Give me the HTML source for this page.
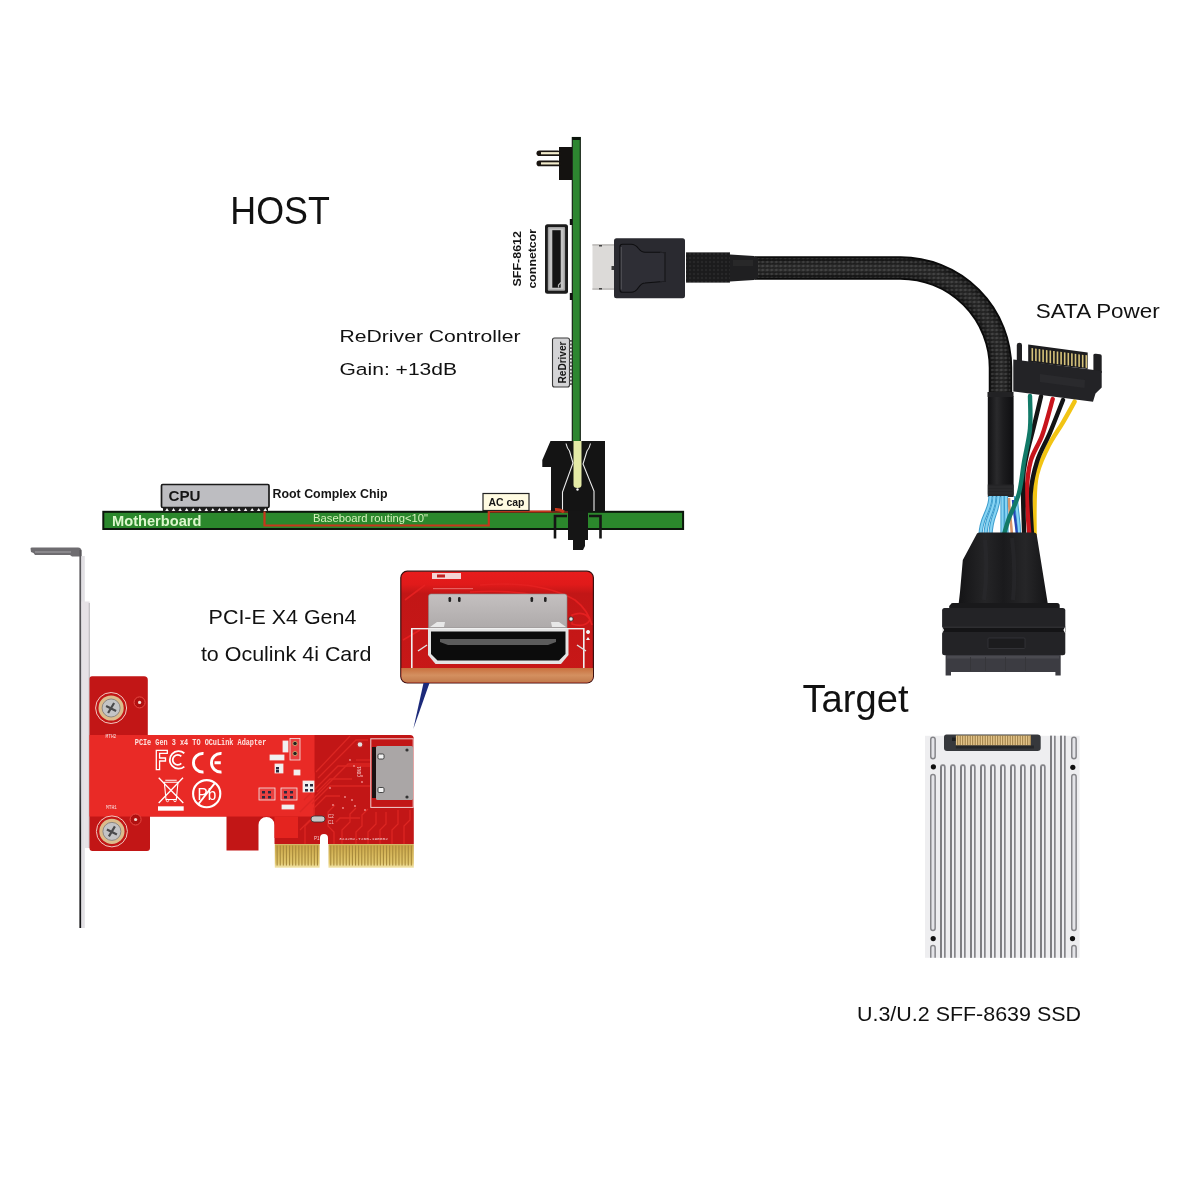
<!DOCTYPE html>
<html><head><meta charset="utf-8"><title>OCuLink to U.2 cable diagram</title>
<style>html,body{margin:0;padding:0;background:#fff;width:1200px;height:1200px;overflow:hidden}svg{display:block;will-change:transform}</style>
</head><body>
<svg width="1200" height="1200" viewBox="0 0 1200 1200">
<rect width="1200" height="1200" fill="#ffffff"/>
<defs>
<pattern id="braid" width="4.5" height="4" patternUnits="userSpaceOnUse">
<rect width="4.5" height="4" fill="#1c1c1c"/>
<path d="M0,2 L2.25,0.4 L4.5,2 L2.25,3.6 Z" fill="#383838"/>
<path d="M1.2,2 L2.25,1.2 L3.3,2 L2.25,2.8 Z" fill="#4a4a4a"/>
</pattern>
<pattern id="braid2" width="4.5" height="4" patternUnits="userSpaceOnUse" patternTransform="rotate(0)">
<path d="M0,2 L2.25,0.5 L4.5,2 L2.25,3.5 Z" fill="#ffffff" fill-opacity="0.10"/>
<path d="M1.3,2 L2.25,1.3 L3.2,2 L2.25,2.7 Z" fill="#ffffff" fill-opacity="0.08"/>
<path d="M0,0 L2.25,0.5 M2.25,3.5 L4.5,4" stroke="#000" stroke-opacity="0.3" stroke-width="0.5"/>
</pattern>
<pattern id="braidS" width="4" height="4" patternUnits="userSpaceOnUse">
<rect width="4" height="4" fill="#1a1a1a"/>
<circle cx="2" cy="2" r="1.2" fill="#333"/>
</pattern>
<linearGradient id="shrink" x1="0" x2="1" y1="0" y2="0">
<stop offset="0" stop-color="#101012"/><stop offset="0.35" stop-color="#2a2a2c"/><stop offset="0.6" stop-color="#1c1c1e"/><stop offset="1" stop-color="#0e0e10"/>
</linearGradient>
<linearGradient id="mold" x1="0" x2="1" y1="0" y2="0">
<stop offset="0" stop-color="#141416"/><stop offset="0.3" stop-color="#252527"/><stop offset="0.5" stop-color="#1a1a1c"/><stop offset="0.75" stop-color="#262628"/><stop offset="1" stop-color="#141416"/>
</linearGradient>
<linearGradient id="goldF" x1="0" x2="0" y1="0" y2="1">
<stop offset="0" stop-color="#c9a446"/><stop offset="0.8" stop-color="#e2c86e"/><stop offset="1" stop-color="#f2e6b0"/>
</linearGradient>
<linearGradient id="metal" x1="0" x2="0" y1="0" y2="1">
<stop offset="0" stop-color="#c4c0c0"/><stop offset="1" stop-color="#aeaaaa"/>
</linearGradient>
<linearGradient id="tan" x1="0" x2="0" y1="0" y2="1">
<stop offset="0" stop-color="#c8703e"/><stop offset="0.5" stop-color="#d49060"/><stop offset="1" stop-color="#c27a4c"/>
</linearGradient>
</defs>
<text x="230.3" y="224" font-family="Liberation Sans, sans-serif" font-size="38.3" font-weight="normal" fill="#111" textLength="99.5" lengthAdjust="spacingAndGlyphs" >HOST</text>
<text x="339.5" y="341.7" font-family="Liberation Sans, sans-serif" font-size="17.2" font-weight="normal" fill="#111" textLength="181" lengthAdjust="spacingAndGlyphs" >ReDriver Controller</text>
<text x="339.5" y="375" font-family="Liberation Sans, sans-serif" font-size="17.2" font-weight="normal" fill="#111" textLength="117.5" lengthAdjust="spacingAndGlyphs" >Gain: +13dB</text>
<text x="208.6" y="623.7" font-family="Liberation Sans, sans-serif" font-size="20.3" font-weight="normal" fill="#111" textLength="147.8" lengthAdjust="spacingAndGlyphs" >PCI-E X4 Gen4</text>
<text x="200.9" y="660.8" font-family="Liberation Sans, sans-serif" font-size="20.3" font-weight="normal" fill="#111" textLength="170.5" lengthAdjust="spacingAndGlyphs" >to Oculink 4i Card</text>
<text x="1035.8" y="317.8" font-family="Liberation Sans, sans-serif" font-size="19.6" font-weight="normal" fill="#111" textLength="124" lengthAdjust="spacingAndGlyphs" >SATA Power</text>
<text x="802.5" y="711.9" font-family="Liberation Sans, sans-serif" font-size="38.6" font-weight="normal" fill="#111" textLength="106" lengthAdjust="spacingAndGlyphs" >Target</text>
<text x="857" y="1021" font-family="Liberation Sans, sans-serif" font-size="20.5" font-weight="normal" fill="#111" textLength="224" lengthAdjust="spacingAndGlyphs" >U.3/U.2 SFF-8639 SSD</text>
<rect x="103.3" y="511.8" width="579.8" height="17.2" fill="#2b882c" stroke="#0c160c" stroke-width="2"/>
<polyline points="264.5,511 264.5,525.5 488.8,525.5 488.8,511.5 572,511.5" fill="none" stroke="#c8361c" stroke-width="2.2"/>
<text x="112" y="526.2" font-family="Liberation Sans, sans-serif" font-size="14.2" font-weight="bold" fill="#dcf7cc" textLength="89.5" lengthAdjust="spacingAndGlyphs" >Motherboard</text>
<text x="313" y="522.4" font-family="Liberation Sans, sans-serif" font-size="10.8" font-weight="normal" fill="#d6f3bc" textLength="115" lengthAdjust="spacingAndGlyphs" >Baseboard routing&lt;10&quot;</text>
<rect x="161.5" y="484.5" width="107.5" height="23" fill="#bdbdc1" stroke="#1a1a1a" stroke-width="1.7" rx="1.2"/>
<rect x="163" y="507.6" width="105" height="3.9" fill="#1e1e1e"/>
<path d="M165.20,511 l1.8,-2.9 l1.8,2.9z" fill="#f4f4f4"/><path d="M171.75,511 l1.8,-2.9 l1.8,2.9z" fill="#f4f4f4"/><path d="M178.30,511 l1.8,-2.9 l1.8,2.9z" fill="#f4f4f4"/><path d="M184.85,511 l1.8,-2.9 l1.8,2.9z" fill="#f4f4f4"/><path d="M191.40,511 l1.8,-2.9 l1.8,2.9z" fill="#f4f4f4"/><path d="M197.95,511 l1.8,-2.9 l1.8,2.9z" fill="#f4f4f4"/><path d="M204.50,511 l1.8,-2.9 l1.8,2.9z" fill="#f4f4f4"/><path d="M211.05,511 l1.8,-2.9 l1.8,2.9z" fill="#f4f4f4"/><path d="M217.60,511 l1.8,-2.9 l1.8,2.9z" fill="#f4f4f4"/><path d="M224.15,511 l1.8,-2.9 l1.8,2.9z" fill="#f4f4f4"/><path d="M230.70,511 l1.8,-2.9 l1.8,2.9z" fill="#f4f4f4"/><path d="M237.25,511 l1.8,-2.9 l1.8,2.9z" fill="#f4f4f4"/><path d="M243.80,511 l1.8,-2.9 l1.8,2.9z" fill="#f4f4f4"/><path d="M250.35,511 l1.8,-2.9 l1.8,2.9z" fill="#f4f4f4"/><path d="M256.90,511 l1.8,-2.9 l1.8,2.9z" fill="#f4f4f4"/><path d="M263.45,511 l1.8,-2.9 l1.8,2.9z" fill="#f4f4f4"/>
<text x="168.5" y="500.6" font-family="Liberation Sans, sans-serif" font-size="15.5" font-weight="bold" fill="#151515" textLength="32" lengthAdjust="spacingAndGlyphs" >CPU</text>
<text x="272.5" y="498.2" font-family="Liberation Sans, sans-serif" font-size="12.3" font-weight="bold" fill="#151515" textLength="115" lengthAdjust="spacingAndGlyphs" >Root Complex Chip</text>
<rect x="483" y="493.5" width="46" height="17" fill="#fffbe2" stroke="#222" stroke-width="1.2"/>
<text x="488.5" y="505.6" font-family="Liberation Sans, sans-serif" font-size="10.8" font-weight="bold" fill="#151515" textLength="36" lengthAdjust="spacingAndGlyphs" >AC cap</text>
<rect x="572.3" y="137.5" width="8" height="304" fill="#2d8630" stroke="#0f1a0f" stroke-width="1.1"/>
<rect x="572.3" y="137" width="8" height="3" fill="#0b140b"/>
<rect x="559" y="147" width="13" height="33" fill="#141210"/>
<rect x="536.5" y="150.39999999999998" width="24" height="5.6" rx="2.8" fill="#1a1510"/>
<rect x="541" y="152.1" width="18" height="2.2" fill="#f2eccc"/>
<rect x="536.5" y="160.6" width="24" height="5.6" rx="2.8" fill="#1a1510"/>
<rect x="541" y="162.3" width="18" height="2.2" fill="#f2eccc"/>
<rect x="569.8" y="219" width="2.6" height="6" fill="#111"/><rect x="569.8" y="293" width="2.6" height="7" fill="#111"/>
<rect x="545" y="224.2" width="23" height="69.5" rx="2.5" fill="#1b1b1b"/>
<rect x="547.8" y="227" width="17.3" height="63.8" rx="1" fill="#a2a2a2"/>
<rect x="549.3" y="228.5" width="14.3" height="60.8" fill="#c4c4c4"/>
<rect x="552.3" y="230.2" width="8.4" height="57.5" fill="#141414"/>
<path d="M558.5,287.5 L558.5,285 L561,282.5" fill="none" stroke="#b4b4b4" stroke-width="1.2"/>
<text transform="translate(520.8,286.5) rotate(-90)" font-family="Liberation Sans, sans-serif" font-size="11.8" font-weight="bold" fill="#151515" textLength="55.5" lengthAdjust="spacingAndGlyphs">SFF-8612</text>
<text transform="translate(536.2,288.5) rotate(-90)" font-family="Liberation Sans, sans-serif" font-size="11.8" font-weight="bold" fill="#151515" textLength="59.5" lengthAdjust="spacingAndGlyphs">connetcor</text>
<rect x="552.5" y="338" width="17" height="49" rx="2" fill="#d4d4d6" stroke="#3a3a3a" stroke-width="1.1"/>
<rect x="569.5" y="340.0" width="2.6" height="1.8" fill="#555"/><rect x="569.5" y="343.6" width="2.6" height="1.8" fill="#555"/><rect x="569.5" y="347.2" width="2.6" height="1.8" fill="#555"/><rect x="569.5" y="350.8" width="2.6" height="1.8" fill="#555"/><rect x="569.5" y="354.4" width="2.6" height="1.8" fill="#555"/><rect x="569.5" y="358.0" width="2.6" height="1.8" fill="#555"/><rect x="569.5" y="361.6" width="2.6" height="1.8" fill="#555"/><rect x="569.5" y="365.2" width="2.6" height="1.8" fill="#555"/><rect x="569.5" y="368.8" width="2.6" height="1.8" fill="#555"/><rect x="569.5" y="372.4" width="2.6" height="1.8" fill="#555"/><rect x="569.5" y="376.0" width="2.6" height="1.8" fill="#555"/><rect x="569.5" y="379.6" width="2.6" height="1.8" fill="#555"/><rect x="569.5" y="383.2" width="2.6" height="1.8" fill="#555"/>
<text transform="translate(565.5,383.5) rotate(-90)" font-family="Liberation Sans, sans-serif" font-size="10.6" font-weight="bold" fill="#151515" textLength="42" lengthAdjust="spacingAndGlyphs">ReDriver</text>
<path d="M550.5,441 L605,441 L605,511.5 L551,511.5 L551,467 L542.3,467 L542.3,460 Z" fill="#141414"/>
<path d="M573.5,441 L581.5,441 L581.5,485 Q581.5,488 577.5,488 Q573.5,488 573.5,485 Z" fill="#e4eaa6"/>
<circle cx="577.5" cy="489.5" r="1.2" fill="#f4f4f4"/>
<path d="M566,443.5 Q567,448 569.5,451 L573,463 L562.5,492 L562.5,511" fill="none" stroke="#ececec" stroke-width="1.1"/>
<path d="M590.5,443.5 Q589.5,448 587,451 L583,464 L594,491 L594,511" fill="none" stroke="#ececec" stroke-width="1.1"/>
<rect x="568" y="511" width="20" height="29" fill="#151515"/>
<path d="M573,539 L585,539 L585,546 L583,550 L573,550 Z" fill="#151515"/>
<path d="M555,538.5 L555,516 L567,516 M600.5,538.5 L600.5,516 L589,516" fill="none" stroke="#151515" stroke-width="2.6"/>
<path d="M555,509.5 Q560,509 564,512" fill="none" stroke="#c8361c" stroke-width="3"/>
<path d="M755,268 H900 A100,100 0 0 1 1000.5,368.5 V400" fill="none" stroke="#0a0a0a" stroke-width="23.5"/>
<path d="M755,268 H900 A100,100 0 0 1 1000.5,368.5 V400" fill="none" stroke="#181818" stroke-width="20"/>
<path d="M755,268 H900 A100,100 0 0 1 1000.5,368.5 V400" fill="none" stroke="#202020" stroke-width="14"/>
<path d="M755,268 H900 A100,100 0 0 1 1000.5,368.5 V400" fill="none" stroke="#262626" stroke-width="8"/>
<path d="M755,268 H900 A100,100 0 0 1 1000.5,368.5 V400" fill="none" stroke="url(#braid2)" stroke-width="19.5"/>
<rect x="592.5" y="244" width="22" height="46" fill="#dcdad8"/>
<rect x="592.5" y="244" width="22" height="2" fill="#c4c2c0"/><rect x="592.5" y="288" width="22" height="2" fill="#c4c2c0"/>
<rect x="599" y="245" width="3" height="1.5" fill="#444"/><rect x="599" y="288" width="3" height="1.5" fill="#444"/>
<rect x="614" y="238.3" width="71" height="60" rx="2.5" fill="#2a2a30"/>
<path d="M620,246.5 Q620,244.3 622.5,244.3 L631,244.3 Q635.5,244.5 638.5,248.5 Q641.5,252.3 645,252.3 L660,252.3 L665,252.8 L665,281.2 L660,281.7 L645,283 Q641.5,283 638.5,287.5 Q635.5,292.3 631,292.3 L622.5,292.3 Q620,292.3 620,290 Z" fill="#2e2e35" stroke="#0e0e10" stroke-width="1.1"/>
<path d="M621.2,247 L621.2,289.5" stroke="#6a6a70" stroke-width="0.7"/>
<path d="M660,252.3 L665,252.8 L665,281.2 L660,281.7" fill="none" stroke="#26262b" stroke-width="0.8"/>
<rect x="611.5" y="266" width="2.5" height="4" fill="#3a3a3a"/>
<rect x="686" y="252.5" width="44" height="30" fill="#1b1b1d"/>
<rect x="686" y="252.5" width="44" height="30" fill="url(#braidS)" opacity="0.5"/>
<path d="M730,254.5 L754,256 L758,258 L758,278 L754,280 L730,281.5 Z" fill="#1f1f21"/>
<rect x="733" y="260" width="20" height="6" fill="#2c2c2e" opacity="0.7"/>
<rect x="987.8" y="394.8" width="25.8" height="102.2" rx="3" fill="url(#shrink)"/>
<rect x="987.8" y="484.5" width="25.8" height="12.5" fill="#252527"/>
<path d="M988,487 H1013.5 M988,490 H1013.5 M988,493 H1013.5" stroke="#303033" stroke-width="0.8"/>
<rect x="987.5" y="392" width="26" height="5" fill="#222224"/>
<path d="M990.5,496 C990.5,512 980.5,516 980.5,536" fill="none" stroke="#3c9ccc" stroke-width="4.2"/>
<path d="M990.5,496 C990.5,512 980.5,516 980.5,536" fill="none" stroke="#86d4f4" stroke-width="2.2"/>
<path d="M994.5,496 C994.5,512 985.5,516 985.5,536" fill="none" stroke="#3c9ccc" stroke-width="4.2"/>
<path d="M994.5,496 C994.5,512 985.5,516 985.5,536" fill="none" stroke="#86d4f4" stroke-width="2.2"/>
<path d="M998.5,496 C998.5,512 990.5,516 990.5,536" fill="none" stroke="#3c9ccc" stroke-width="4.2"/>
<path d="M998.5,496 C998.5,512 990.5,516 990.5,536" fill="none" stroke="#86d4f4" stroke-width="2.2"/>
<path d="M1002.5,496 C1002.5,512 1002.5,516 1002.5,536" fill="none" stroke="#3c9ccc" stroke-width="4.2"/>
<path d="M1002.5,496 C1002.5,512 1002.5,516 1002.5,536" fill="none" stroke="#86d4f4" stroke-width="2.2"/>
<path d="M1006,496 C1006,512 1006.5,516 1006.5,536" fill="none" stroke="#3c9ccc" stroke-width="4.2"/>
<path d="M1006,496 C1006,512 1006.5,516 1006.5,536" fill="none" stroke="#86d4f4" stroke-width="2.2"/>
<path d="M1016,496 C1016,512 1019,516 1019,536" fill="none" stroke="#3c9ccc" stroke-width="4.2"/>
<path d="M1016,496 C1016,512 1019,516 1019,536" fill="none" stroke="#86d4f4" stroke-width="2.2"/>
<path d="M1009,498 C1009,512 1011,518 1012,536" fill="none" stroke="#d8946a" stroke-width="2.6"/>
<path d="M1013,500 C1014,515 1016,522 1017,536" fill="none" stroke="#2448b8" stroke-width="2.4"/>
<path d="M1074.6,401.6 C1072.7,405.1 1067.5,414.6 1063.0,422.3 C1058.5,430.0 1052.0,438.3 1047.5,448.0 C1043.0,457.7 1038.1,465.7 1035.9,480.4 C1033.7,495.1 1034.7,526.7 1034.5,536.0" fill="none" stroke="#f2c414" stroke-width="4.4" stroke-linecap="round"/>
<path d="M1063.0,400.0 C1060.8,405.4 1054.3,422.4 1050.0,432.6 C1045.7,442.8 1040.4,450.9 1037.2,461.0 C1034.0,471.1 1031.6,480.5 1030.7,493.0 C1029.8,505.5 1031.8,528.8 1032.0,536.0" fill="none" stroke="#141414" stroke-width="4.4" stroke-linecap="round"/>
<path d="M1052.7,399.0 C1051.0,405.0 1046.0,424.7 1042.3,435.0 C1038.6,445.3 1033.3,451.3 1030.7,461.0 C1028.1,470.7 1027.0,480.5 1026.8,493.0 C1026.6,505.5 1029.0,528.8 1029.4,536.0" fill="none" stroke="#c8141c" stroke-width="4.4" stroke-linecap="round"/>
<path d="M1041.0,396.5 C1039.7,401.9 1035.7,419.1 1033.3,428.8 C1030.9,438.5 1028.5,446.0 1026.8,454.6 C1025.1,463.2 1023.4,466.8 1023.0,480.4 C1022.6,494.0 1024.0,526.7 1024.2,536.0" fill="none" stroke="#141414" stroke-width="4.4" stroke-linecap="round"/>
<path d="M1030.0,396.0 C1030.0,401.5 1031.0,417.8 1030.0,428.8 C1029.0,439.8 1025.8,451.3 1024.0,462.0 C1022.2,472.7 1021.5,483.5 1019.0,493.0 C1016.5,502.5 1011.3,511.8 1008.7,519.0 C1006.1,526.2 1004.5,533.2 1003.6,536.0" fill="none" stroke="#127a68" stroke-width="4.4" stroke-linecap="round"/>
<path d="M1016.8,345 Q1016.8,342.8 1019.4,342.8 Q1022,342.8 1022,345 L1022,362 L1016.8,361 Z" fill="#202022"/>
<path d="M1093.4,355 Q1093.4,353.6 1096,353.8 L1100,354.3 Q1101.7,354.6 1101.7,356 L1101.7,373 L1093.4,372 Z" fill="#202022"/>
<path d="M1028.2,344.6 L1087.7,352.4 L1087.7,369 L1028.2,362 Z" fill="#1d1d1f"/>
<path d="M1031.5,348.1 l1.6,0.2 l0,12.6 l-1.6,-0.2 z" fill="#d6c27a"/>
<path d="M1035.1,348.5 l1.6,0.2 l0,12.6 l-1.6,-0.2 z" fill="#d6c27a"/>
<path d="M1038.7,349.0 l1.6,0.2 l0,12.6 l-1.6,-0.2 z" fill="#d6c27a"/>
<path d="M1042.3,349.5 l1.6,0.2 l0,12.6 l-1.6,-0.2 z" fill="#d6c27a"/>
<path d="M1045.9,350.0 l1.6,0.2 l0,12.6 l-1.6,-0.2 z" fill="#d6c27a"/>
<path d="M1049.5,350.4 l1.6,0.2 l0,12.6 l-1.6,-0.2 z" fill="#d6c27a"/>
<path d="M1053.1,350.9 l1.6,0.2 l0,12.6 l-1.6,-0.2 z" fill="#d6c27a"/>
<path d="M1056.7,351.4 l1.6,0.2 l0,12.6 l-1.6,-0.2 z" fill="#d6c27a"/>
<path d="M1060.3,351.8 l1.6,0.2 l0,12.6 l-1.6,-0.2 z" fill="#d6c27a"/>
<path d="M1063.9,352.3 l1.6,0.2 l0,12.6 l-1.6,-0.2 z" fill="#d6c27a"/>
<path d="M1067.5,352.8 l1.6,0.2 l0,12.6 l-1.6,-0.2 z" fill="#d6c27a"/>
<path d="M1071.1,353.3 l1.6,0.2 l0,12.6 l-1.6,-0.2 z" fill="#d6c27a"/>
<path d="M1074.7,353.7 l1.6,0.2 l0,12.6 l-1.6,-0.2 z" fill="#d6c27a"/>
<path d="M1078.3,354.2 l1.6,0.2 l0,12.6 l-1.6,-0.2 z" fill="#d6c27a"/>
<path d="M1081.9,354.7 l1.6,0.2 l0,12.6 l-1.6,-0.2 z" fill="#d6c27a"/>
<path d="M1085.5,355.1 l1.6,0.2 l0,12.6 l-1.6,-0.2 z" fill="#d6c27a"/>
<path d="M1013.3,359.5 L1101.7,371 L1101.7,387.5 L1095.5,393.5 L1093,401.7 L1013.3,391.5 Z" fill="#232326"/>
<path d="M1040,374 L1085,380 L1084.5,388 L1040,382 Z" fill="#2a2a2d"/>
<path d="M977,533.5 Q978,532.5 980,532.5 L1034,532.5 Q1036,532.5 1036.6,534 L1048,605 L958.5,605 L960,592 L962.8,560 Z" fill="url(#mold)"/>
<path d="M985,540 Q988,570 984,600 M1012,538 Q1016,570 1013,600" stroke="#2a2a2d" stroke-width="4" fill="none" opacity="0.6"/>
<path d="M951,604 Q951,603 953,603 L1057,603 Q1059.7,603 1059.7,605.5 L1059.7,609 L949.2,609 L949.2,606 Z" fill="#19191b"/>
<rect x="942.1" y="608" width="123.2" height="47.2" rx="2.5" fill="#232326"/>
<rect x="942.1" y="626.5" width="123.2" height="1.5" fill="#2e2e31"/>
<rect x="942.1" y="628" width="123.2" height="4" fill="#141416"/>
<path d="M942.1,626.5 L944,630 L942.1,633.5 Z M1065.3,626.5 L1063.4,630 L1065.3,633.5 Z" fill="#ffffff"/>
<rect x="988" y="638" width="37" height="10.5" rx="1" fill="#1c1c1e" stroke="#36363a" stroke-width="0.8"/>
<path d="M945.6,655 H1060.7 V675.5 H1055.4 V672 H951 V675.5 H945.6 Z" fill="#3c3c42"/>
<rect x="947" y="656" width="112" height="2.5" fill="#4a4a50"/>
<rect x="970" y="657" width="0.9" height="14" fill="#36363a"/><rect x="985" y="657" width="0.9" height="14" fill="#36363a"/><rect x="1005" y="657" width="0.9" height="14" fill="#36363a"/><rect x="1025" y="657" width="0.9" height="14" fill="#36363a"/>
<rect x="925" y="735.8" width="154.6" height="222" fill="#eeeef0"/>
<path d="M946.5,734.5 H1037.5 Q1040.7,734.5 1040.7,737.5 V748 Q1040.7,751 1037.5,751 H947 Q944,751 944,748 V737 Q944,734.5 946.5,734.5 Z" fill="#36383c"/>
<rect x="952" y="737.5" width="5" height="3.5" fill="#1c1e20"/>
<rect x="955.9" y="735.5" width="75" height="10" fill="#e6c88e"/>
<rect x="957.2" y="735.5" width="1" height="10" fill="#9a7a44"/><rect x="959.7" y="735.5" width="1" height="10" fill="#9a7a44"/><rect x="962.2" y="735.5" width="1" height="10" fill="#9a7a44"/><rect x="964.7" y="735.5" width="1" height="10" fill="#9a7a44"/><rect x="967.2" y="735.5" width="1" height="10" fill="#9a7a44"/><rect x="969.7" y="735.5" width="1" height="10" fill="#9a7a44"/><rect x="972.2" y="735.5" width="1" height="10" fill="#9a7a44"/><rect x="974.7" y="735.5" width="1" height="10" fill="#9a7a44"/><rect x="977.2" y="735.5" width="1" height="10" fill="#9a7a44"/><rect x="979.7" y="735.5" width="1" height="10" fill="#9a7a44"/><rect x="982.2" y="735.5" width="1" height="10" fill="#9a7a44"/><rect x="984.7" y="735.5" width="1" height="10" fill="#9a7a44"/><rect x="987.2" y="735.5" width="1" height="10" fill="#9a7a44"/><rect x="989.7" y="735.5" width="1" height="10" fill="#9a7a44"/><rect x="992.2" y="735.5" width="1" height="10" fill="#9a7a44"/><rect x="994.7" y="735.5" width="1" height="10" fill="#9a7a44"/><rect x="997.2" y="735.5" width="1" height="10" fill="#9a7a44"/><rect x="999.7" y="735.5" width="1" height="10" fill="#9a7a44"/><rect x="1002.2" y="735.5" width="1" height="10" fill="#9a7a44"/><rect x="1004.7" y="735.5" width="1" height="10" fill="#9a7a44"/><rect x="1007.2" y="735.5" width="1" height="10" fill="#9a7a44"/><rect x="1009.7" y="735.5" width="1" height="10" fill="#9a7a44"/><rect x="1012.2" y="735.5" width="1" height="10" fill="#9a7a44"/><rect x="1014.7" y="735.5" width="1" height="10" fill="#9a7a44"/><rect x="1017.2" y="735.5" width="1" height="10" fill="#9a7a44"/><rect x="1019.7" y="735.5" width="1" height="10" fill="#9a7a44"/><rect x="1022.2" y="735.5" width="1" height="10" fill="#9a7a44"/><rect x="1024.7" y="735.5" width="1" height="10" fill="#9a7a44"/><rect x="1027.2" y="735.5" width="1" height="10" fill="#9a7a44"/><rect x="1029.7" y="735.5" width="1" height="10" fill="#9a7a44"/>
<rect x="955.9" y="745.5" width="78" height="3" fill="#25272a"/>
<clipPath id="ssdclip"><rect x="925" y="735.8" width="154.6" height="222"/></clipPath>
<g clip-path="url(#ssdclip)">
<rect x="940.95" y="765.2" width="3.9" height="201.6" rx="1.6" fill="#e2e2e6" stroke="#86868a" stroke-width="1.7"/>
<rect x="940.30" y="766.4" width="1.4" height="191.6" fill="#76767a"/>
<rect x="942.30" y="767.4" width="1.4" height="190.6" fill="#f4f4f6"/>
<rect x="950.95" y="765.2" width="3.9" height="201.6" rx="1.6" fill="#e2e2e6" stroke="#86868a" stroke-width="1.7"/>
<rect x="950.30" y="766.4" width="1.4" height="191.6" fill="#76767a"/>
<rect x="952.30" y="767.4" width="1.4" height="190.6" fill="#f4f4f6"/>
<rect x="960.95" y="765.2" width="3.9" height="201.6" rx="1.6" fill="#e2e2e6" stroke="#86868a" stroke-width="1.7"/>
<rect x="960.30" y="766.4" width="1.4" height="191.6" fill="#76767a"/>
<rect x="962.30" y="767.4" width="1.4" height="190.6" fill="#f4f4f6"/>
<rect x="970.95" y="765.2" width="3.9" height="201.6" rx="1.6" fill="#e2e2e6" stroke="#86868a" stroke-width="1.7"/>
<rect x="970.30" y="766.4" width="1.4" height="191.6" fill="#76767a"/>
<rect x="972.30" y="767.4" width="1.4" height="190.6" fill="#f4f4f6"/>
<rect x="980.95" y="765.2" width="3.9" height="201.6" rx="1.6" fill="#e2e2e6" stroke="#86868a" stroke-width="1.7"/>
<rect x="980.30" y="766.4" width="1.4" height="191.6" fill="#76767a"/>
<rect x="982.30" y="767.4" width="1.4" height="190.6" fill="#f4f4f6"/>
<rect x="990.95" y="765.2" width="3.9" height="201.6" rx="1.6" fill="#e2e2e6" stroke="#86868a" stroke-width="1.7"/>
<rect x="990.30" y="766.4" width="1.4" height="191.6" fill="#76767a"/>
<rect x="992.30" y="767.4" width="1.4" height="190.6" fill="#f4f4f6"/>
<rect x="1000.95" y="765.2" width="3.9" height="201.6" rx="1.6" fill="#e2e2e6" stroke="#86868a" stroke-width="1.7"/>
<rect x="1000.30" y="766.4" width="1.4" height="191.6" fill="#76767a"/>
<rect x="1002.30" y="767.4" width="1.4" height="190.6" fill="#f4f4f6"/>
<rect x="1010.95" y="765.2" width="3.9" height="201.6" rx="1.6" fill="#e2e2e6" stroke="#86868a" stroke-width="1.7"/>
<rect x="1010.30" y="766.4" width="1.4" height="191.6" fill="#76767a"/>
<rect x="1012.30" y="767.4" width="1.4" height="190.6" fill="#f4f4f6"/>
<rect x="1020.95" y="765.2" width="3.9" height="201.6" rx="1.6" fill="#e2e2e6" stroke="#86868a" stroke-width="1.7"/>
<rect x="1020.30" y="766.4" width="1.4" height="191.6" fill="#76767a"/>
<rect x="1022.30" y="767.4" width="1.4" height="190.6" fill="#f4f4f6"/>
<rect x="1030.95" y="765.2" width="3.9" height="201.6" rx="1.6" fill="#e2e2e6" stroke="#86868a" stroke-width="1.7"/>
<rect x="1030.30" y="766.4" width="1.4" height="191.6" fill="#76767a"/>
<rect x="1032.30" y="767.4" width="1.4" height="190.6" fill="#f4f4f6"/>
<rect x="1040.95" y="765.2" width="3.9" height="201.6" rx="1.6" fill="#e2e2e6" stroke="#86868a" stroke-width="1.7"/>
<rect x="1040.30" y="766.4" width="1.4" height="191.6" fill="#76767a"/>
<rect x="1042.30" y="767.4" width="1.4" height="190.6" fill="#f4f4f6"/>
<rect x="1050.95" y="730.9" width="3.9" height="236.0" rx="0" fill="#e2e2e6" stroke="#86868a" stroke-width="1.7"/>
<rect x="1050.30" y="732.0" width="1.4" height="226.0" fill="#76767a"/>
<rect x="1052.30" y="733.0" width="1.4" height="225.0" fill="#f4f4f6"/>
<rect x="1060.95" y="730.9" width="3.9" height="236.0" rx="0" fill="#e2e2e6" stroke="#86868a" stroke-width="1.7"/>
<rect x="1060.30" y="732.0" width="1.4" height="226.0" fill="#76767a"/>
<rect x="1062.30" y="733.0" width="1.4" height="225.0" fill="#f4f4f6"/>
<rect x="930.75" y="737.2" width="4.4" height="21.5" rx="2.2" fill="#e4e4e8" stroke="#86868a" stroke-width="1.5"/>
<rect x="930.75" y="774.5" width="4.4" height="156" rx="2.2" fill="#e4e4e8" stroke="#86868a" stroke-width="1.5"/>
<rect x="930.75" y="945.5" width="4.4" height="20" rx="2.2" fill="#e4e4e8" stroke="#86868a" stroke-width="1.5"/>
<rect x="1071.75" y="737.2" width="4.4" height="21.5" rx="2.2" fill="#e4e4e8" stroke="#86868a" stroke-width="1.5"/>
<rect x="1071.75" y="774.5" width="4.4" height="156" rx="2.2" fill="#e4e4e8" stroke="#86868a" stroke-width="1.5"/>
<rect x="1071.75" y="945.5" width="4.4" height="20" rx="2.2" fill="#e4e4e8" stroke="#86868a" stroke-width="1.5"/>
</g>
<circle cx="933.4" cy="766.8" r="2.6" fill="#111"/>
<circle cx="1072.8" cy="767.3" r="2.6" fill="#111"/>
<circle cx="933.2" cy="938.6" r="2.6" fill="#111"/>
<circle cx="1072.5" cy="938.6" r="2.6" fill="#111"/>
<path d="M30.5,548.5 Q30.5,547.5 32,547.5 L78,547.5 Q81.5,547.5 81.5,551 L81.5,556.5 L72,556.5 L70,555 L35,555 L33.5,553 L31,552 Z" fill="#6e6c70"/>
<rect x="35" y="551" width="36" height="2" fill="#8a888c"/>
<linearGradient id="brk" x1="0" x2="0" y1="0" y2="1"><stop offset="0" stop-color="#5a585c"/><stop offset="0.6" stop-color="#4a484c"/><stop offset="0.75" stop-color="#1e1e20"/><stop offset="1" stop-color="#151517"/></linearGradient>
<rect x="79.4" y="550" width="2" height="378" fill="url(#brk)"/>
<rect x="81.4" y="556" width="3.4" height="372" fill="#e2e0e4"/>
<path d="M81.6,601.5 L89.6,601.5 L89.6,848 L84.8,848 Z" fill="#e6e2e6"/>
<rect x="88.8" y="603" width="0.8" height="245" fill="#a8a6aa"/>
<path d="M92,676.3 L144,676.3 Q147.8,676.3 147.8,680 L147.8,735 L410,735 Q413.8,735 413.8,739 L413.8,844 L328,844 L328,838 Q328,834 324,834 Q320,834 320,838 L320,844 L274.5,844 L274.5,825 A8,8 0 0 0 258.5,825 L258.5,850.5 L226.5,850.5 L226.5,816.5 L150,816.5 L150,848 Q150,851 147,851 L92.5,851 Q89.5,851 89.5,848 L89.5,679 Q89.5,676.3 92,676.3 Z" fill="#c21616"/>
<rect x="89.5" y="735" width="225" height="81.5" fill="#e92a26"/>
<path d="M274.5,816.5 L298,816.5 L298,838 L274.5,838 Z" fill="#e4241f"/>
<path d="M314.5,735 L314.5,772 L305,782 L305,790 L314.5,780 Z" fill="#e92a26"/>
<path d="M316,772 L350,736" stroke="#dc2622" stroke-width="1.3" fill="none"/>
<path d="M318,778 L356,740 L368,740" stroke="#dc2622" stroke-width="1.3" fill="none"/>
<path d="M304,800 L338,766 L370,766" stroke="#dc2622" stroke-width="1.3" fill="none"/>
<path d="M300,812 L348,764 L370,764" stroke="#dc2622" stroke-width="1.3" fill="none"/>
<path d="M312,804 L330,786 L370,786" stroke="#dc2622" stroke-width="1.3" fill="none"/>
<path d="M317,792 L330,779 L352,779" stroke="#dc2622" stroke-width="1.3" fill="none"/>
<path d="M356,760 L370,760" stroke="#dc2622" stroke-width="1.3" fill="none"/>
<path d="M305,844 L305,826 L314,817 L314,808 L326,796 L340,796" stroke="#dc2622" stroke-width="1.3" fill="none"/>
<path d="M334,844 L334,832 L328,826 L328,812 L335,805" stroke="#dc2622" stroke-width="1.3" fill="none"/>
<path d="M342,844 L342,830 L350,822 L350,814 L356,808" stroke="#dc2622" stroke-width="1.3" fill="none"/>
<path d="M356,844 L356,832 L362,826 L362,815 L368,809" stroke="#dc2622" stroke-width="1.3" fill="none"/>
<path d="M368,844 L368,832 L376,824 L376,812" stroke="#dc2622" stroke-width="1.3" fill="none"/>
<path d="M380,844 L380,830 L386,824 L386,812" stroke="#dc2622" stroke-width="1.3" fill="none"/>
<path d="M392,844 L392,830 L398,824 L398,810" stroke="#dc2622" stroke-width="1.3" fill="none"/>
<path d="M404,844 L404,826 L410,820 L410,810" stroke="#dc2622" stroke-width="1.3" fill="none"/>
<path d="M360,818 L340,818 L336,822" stroke="#dc2622" stroke-width="1.3" fill="none"/>
<path d="M300,830 L310,820" stroke="#dc2622" stroke-width="1.3" fill="none"/>
<circle cx="350" cy="760" r="0.9" fill="#f09090"/><circle cx="354" cy="766" r="0.9" fill="#f09090"/><circle cx="330" cy="788" r="0.9" fill="#f09090"/><circle cx="345" cy="797" r="0.9" fill="#f09090"/><circle cx="333" cy="805" r="0.9" fill="#f09090"/><circle cx="343" cy="808" r="0.9" fill="#f09090"/><circle cx="355" cy="806" r="0.9" fill="#f09090"/><circle cx="365" cy="810" r="0.9" fill="#f09090"/><circle cx="352" cy="800" r="0.9" fill="#f09090"/><circle cx="362" cy="782" r="0.9" fill="#f09090"/><circle cx="362" cy="776" r="0.9" fill="#f09090"/>
<text transform="translate(361,777) rotate(-90)" font-family="Liberation Mono, monospace" font-size="4.5" fill="#f4c8c8">CON1</text>
<text x="339" y="840" font-family="Liberation Mono, monospace" font-size="4" fill="#f4d0d0" textLength="49" lengthAdjust="spacingAndGlyphs">324252-T265-190802</text>
<text x="328" y="818" font-family="Liberation Sans, sans-serif" font-size="4.5" fill="#f4d0d0">C2</text><text x="328" y="823.5" font-family="Liberation Sans, sans-serif" font-size="4.5" fill="#f4d0d0">C1</text><text x="314" y="840" font-family="Liberation Sans, sans-serif" font-size="4.5" fill="#f4d0d0">P1</text>
<rect x="274.8" y="844.2" width="44.8" height="23.6" fill="url(#goldF)"/>
<rect x="328.5" y="844.2" width="85.3" height="23.6" fill="url(#goldF)"/>
<rect x="276.6" y="845.5" width="1.1" height="20" fill="#a88a3c"/><rect x="279.7" y="845.5" width="1.1" height="20" fill="#a88a3c"/><rect x="282.8" y="845.5" width="1.1" height="20" fill="#a88a3c"/><rect x="285.9" y="845.5" width="1.1" height="20" fill="#a88a3c"/><rect x="289.0" y="845.5" width="1.1" height="20" fill="#a88a3c"/><rect x="292.1" y="845.5" width="1.1" height="20" fill="#a88a3c"/><rect x="295.2" y="845.5" width="1.1" height="20" fill="#a88a3c"/><rect x="298.3" y="845.5" width="1.1" height="20" fill="#a88a3c"/><rect x="301.4" y="845.5" width="1.1" height="20" fill="#a88a3c"/><rect x="304.5" y="845.5" width="1.1" height="20" fill="#a88a3c"/><rect x="307.6" y="845.5" width="1.1" height="20" fill="#a88a3c"/><rect x="310.7" y="845.5" width="1.1" height="20" fill="#a88a3c"/><rect x="313.8" y="845.5" width="1.1" height="20" fill="#a88a3c"/><rect x="316.9" y="845.5" width="1.1" height="20" fill="#a88a3c"/>
<rect x="330.2" y="845.5" width="1.1" height="20" fill="#a88a3c"/><rect x="333.3" y="845.5" width="1.1" height="20" fill="#a88a3c"/><rect x="336.4" y="845.5" width="1.1" height="20" fill="#a88a3c"/><rect x="339.5" y="845.5" width="1.1" height="20" fill="#a88a3c"/><rect x="342.6" y="845.5" width="1.1" height="20" fill="#a88a3c"/><rect x="345.7" y="845.5" width="1.1" height="20" fill="#a88a3c"/><rect x="348.8" y="845.5" width="1.1" height="20" fill="#a88a3c"/><rect x="351.9" y="845.5" width="1.1" height="20" fill="#a88a3c"/><rect x="355.0" y="845.5" width="1.1" height="20" fill="#a88a3c"/><rect x="358.1" y="845.5" width="1.1" height="20" fill="#a88a3c"/><rect x="361.2" y="845.5" width="1.1" height="20" fill="#a88a3c"/><rect x="364.3" y="845.5" width="1.1" height="20" fill="#a88a3c"/><rect x="367.4" y="845.5" width="1.1" height="20" fill="#a88a3c"/><rect x="370.5" y="845.5" width="1.1" height="20" fill="#a88a3c"/><rect x="373.6" y="845.5" width="1.1" height="20" fill="#a88a3c"/><rect x="376.7" y="845.5" width="1.1" height="20" fill="#a88a3c"/><rect x="379.8" y="845.5" width="1.1" height="20" fill="#a88a3c"/><rect x="382.9" y="845.5" width="1.1" height="20" fill="#a88a3c"/><rect x="386.0" y="845.5" width="1.1" height="20" fill="#a88a3c"/><rect x="389.1" y="845.5" width="1.1" height="20" fill="#a88a3c"/><rect x="392.2" y="845.5" width="1.1" height="20" fill="#a88a3c"/><rect x="395.3" y="845.5" width="1.1" height="20" fill="#a88a3c"/><rect x="398.4" y="845.5" width="1.1" height="20" fill="#a88a3c"/><rect x="401.5" y="845.5" width="1.1" height="20" fill="#a88a3c"/><rect x="404.6" y="845.5" width="1.1" height="20" fill="#a88a3c"/><rect x="407.7" y="845.5" width="1.1" height="20" fill="#a88a3c"/><rect x="410.8" y="845.5" width="1.1" height="20" fill="#a88a3c"/>
<circle cx="111.1" cy="708" r="15.5" fill="none" stroke="#f2c8c0" stroke-width="1"/>
<circle cx="111.1" cy="708" r="12.6" fill="#dcbc8c"/>
<circle cx="111.1" cy="708" r="9" fill="#c4c4c6" stroke="#7a7a7c" stroke-width="0.8"/>
<path d="M106.1,706 L116.1,711 M108.1,713 L114.1,703" stroke="#4a4a4c" stroke-width="2.2"/>
<circle cx="111.9" cy="831.4" r="15.5" fill="none" stroke="#f2c8c0" stroke-width="1"/>
<circle cx="111.9" cy="831.4" r="12.6" fill="#dcbc8c"/>
<circle cx="111.9" cy="831.4" r="9" fill="#c4c4c6" stroke="#7a7a7c" stroke-width="0.8"/>
<path d="M106.9,829.4 L116.9,834.4 M108.9,836.4 L114.9,826.4" stroke="#4a4a4c" stroke-width="2.2"/>
<circle cx="139.6" cy="702.4" r="5.5" fill="#b01010" stroke="#e84a44" stroke-width="1"/><circle cx="139.6" cy="702.4" r="1.6" fill="#f0d8d0"/>
<circle cx="135.6" cy="819.5" r="5.5" fill="#b01010" stroke="#e84a44" stroke-width="1"/><circle cx="135.6" cy="819.5" r="1.6" fill="#f0d8d0"/>
<text x="105.5" y="737.5" font-family="Liberation Mono, monospace" font-size="4.5" fill="#f8e0e0">MTH2</text>
<text x="106" y="808.5" font-family="Liberation Mono, monospace" font-size="4.5" fill="#f8e0e0">MTH1</text>
<text x="134.8" y="745" font-family="Liberation Mono, monospace" font-size="8.2" font-weight="bold" fill="#fde4e0" textLength="131.5" lengthAdjust="spacingAndGlyphs">PCIe Gen 3 x4 TO OCuLink Adapter</text>
<path d="M156.3,750.3 H167.3 V753.3 H159.6 V758 H165.5 V761 H159.6 V769.7 H156.3 Z" fill="none" stroke="#fff" stroke-width="1.3"/>
<path d="M184.3,753.2 A8.8,8.8 0 1 0 184.3,766.6" stroke="#fff" stroke-width="1.8" fill="none"/>
<path d="M181.3,756.4 A5,5 0 1 0 181.3,763.4" stroke="#fff" stroke-width="1.8" fill="none"/>
<path d="M203.5,753.5 A9.1,9.3 0 1 0 203.5,772" stroke="#fff" stroke-width="2.9" fill="none"/>
<path d="M221.5,753.5 A9.1,9.3 0 1 0 221.5,772 M214.5,762.7 L220.8,762.7" stroke="#fff" stroke-width="2.9" fill="none"/>
<path d="M158.7,777.7 L183.3,803 M183,777.7 L158.7,803" stroke="#fff" stroke-width="1.3"/>
<path d="M164.3,782.3 L178,782.3 L176.3,799.5 L166,799.5 Z M165.3,780.2 L176.7,780.2" stroke="#fff" stroke-width="1.1" fill="none"/>
<circle cx="167.5" cy="800.5" r="1.2" fill="none" stroke="#fff" stroke-width="0.9"/><circle cx="175" cy="800.5" r="1.2" fill="none" stroke="#fff" stroke-width="0.9"/>
<rect x="158" y="806.3" width="25.7" height="4.4" fill="#fff"/>
<circle cx="206.7" cy="793.7" r="13.6" fill="none" stroke="#fff" stroke-width="2.1"/>
<text x="197.5" y="800.4" font-family="Liberation Sans, sans-serif" font-size="17" fill="#fff" textLength="18.8" lengthAdjust="spacingAndGlyphs">Pb</text>
<path d="M214.8,783.2 L198.5,804" stroke="#fff" stroke-width="2"/>
<rect x="370.8" y="738.8" width="42.4" height="68.6" fill="none" stroke="#f0d0d0" stroke-width="1"/>
<rect x="372" y="747" width="4.2" height="51" fill="#1a1010"/>
<rect x="376" y="746" width="37" height="54" rx="1.5" fill="#aaa6a6"/>
<rect x="378" y="754" width="6" height="5" rx="1.2" fill="#f2f2f2" stroke="#222" stroke-width="0.8"/>
<rect x="378" y="787.5" width="6" height="5" rx="1.2" fill="#f2f2f2" stroke="#222" stroke-width="0.8"/>
<circle cx="407" cy="750" r="1.6" fill="#333"/><circle cx="407" cy="797" r="1.6" fill="#333"/>
<circle cx="360" cy="744.5" r="3" fill="#e0e0e0" stroke="#c02020" stroke-width="1.3"/>
<rect x="290" y="738.5" width="10" height="21.5" fill="#e84040" stroke="#f4e8e8" stroke-width="0.8"/>
<rect x="283" y="741" width="5" height="11" fill="#f0f0f0" stroke="#f4e8e8" stroke-width="0.8"/>
<rect x="270" y="755" width="14" height="5" fill="#f0f0f0" stroke="#f4e8e8" stroke-width="0.8"/>
<rect x="275" y="764" width="8" height="9" fill="#f0f0f0" stroke="#f4e8e8" stroke-width="0.8"/>
<rect x="294" y="770" width="6" height="5" fill="#f0f0f0" stroke="#f4e8e8" stroke-width="0.8"/>
<rect x="259" y="788" width="16" height="12" fill="#e84040" stroke="#f4e8e8" stroke-width="0.8"/>
<rect x="281" y="788" width="16" height="12" fill="#e84040" stroke="#f4e8e8" stroke-width="0.8"/>
<rect x="303" y="781" width="11" height="11" fill="#f0f0f0" stroke="#f4e8e8" stroke-width="0.8"/>
<rect x="282" y="805" width="12" height="4" fill="#f0f0f0" stroke="#f4e8e8" stroke-width="0.8"/>
<circle cx="295" cy="743.5" r="2.2" fill="#222" stroke="#d8b070" stroke-width="0.8"/><circle cx="295" cy="753.5" r="2.2" fill="#222" stroke="#d8b070" stroke-width="0.8"/>
<rect x="262" y="791" width="3" height="2.5" fill="#2a2a40"/>
<rect x="262" y="796" width="3" height="2.5" fill="#2a2a40"/>
<rect x="268" y="791" width="3" height="2.5" fill="#2a2a40"/>
<rect x="268" y="796" width="3" height="2.5" fill="#2a2a40"/>
<rect x="284" y="791" width="3" height="2.5" fill="#2a2a40"/>
<rect x="284" y="796" width="3" height="2.5" fill="#2a2a40"/>
<rect x="290" y="791" width="3" height="2.5" fill="#2a2a40"/>
<rect x="290" y="796" width="3" height="2.5" fill="#2a2a40"/>
<rect x="305" y="784" width="3" height="2.5" fill="#2a2a40"/>
<rect x="310" y="784" width="3" height="2.5" fill="#2a2a40"/>
<rect x="305" y="789" width="3" height="2.5" fill="#2a2a40"/>
<rect x="310" y="789" width="3" height="2.5" fill="#2a2a40"/>
<rect x="276" y="767" width="3" height="2.5" fill="#2a2a40"/>
<rect x="276" y="770" width="3" height="2.5" fill="#2a2a40"/>
<rect x="311" y="816" width="14" height="6" rx="3" fill="#c8c4c4" stroke="#333" stroke-width="0.8"/>
<linearGradient id="insetR" x1="0" x2="0" y1="0" y2="1"><stop offset="0" stop-color="#e81c1c"/><stop offset="0.12" stop-color="#e01a1a"/><stop offset="0.2" stop-color="#c21616"/><stop offset="1" stop-color="#c81818"/></linearGradient>
<rect x="400.8" y="571.2" width="192.6" height="111.8" rx="6.5" fill="url(#insetR)" stroke="#3a1010" stroke-width="1.2"/>
<path d="M480,585 Q540,580 575,600 Q588,610 592,625 M470,592 Q530,588 565,605 M405,600 L425,585 M403,640 L420,630 M572,615 Q585,610 590,620 Q585,628 572,624 Z" stroke="#e42020" stroke-width="1.6" fill="none"/>
<circle cx="571" cy="619" r="2.2" fill="#e8e8e8" stroke="#222" stroke-width="0.8"/>
<path d="M588,630 a2,2 0 1 0 0.1,0 M588,637 l-2,3 h4 z" fill="#f4f4f4"/>
<path d="M401.4,668 H593 V676.5 A6,6 0 0 1 587,682.5 H407.4 A6,6 0 0 1 401.4,676.5 Z" fill="url(#tan)"/>
<rect x="432" y="573" width="29" height="6" fill="#f4d4d4"/><rect x="437" y="574.5" width="8" height="3" fill="#c02020"/>
<rect x="433" y="588" width="40" height="1.2" fill="#f08080" opacity="0.7"/>
<path d="M428.5,596.5 Q428.5,594 431,594 H564.5 Q567,594 567,596.5 V628 H428.5 Z" fill="url(#metal)" stroke="#8a8686" stroke-width="0.6"/>
<rect x="411" y="628" width="1.6" height="40" fill="#f0f0f0"/><rect x="583" y="628" width="1.6" height="40" fill="#f0f0f0"/>
<rect x="411" y="628" width="173" height="1.4" fill="#f0f0f0"/>
<path d="M430,627 L437,622 L445,622 L444,627 Z M566,627 L559,622 L551,622 L552,627 Z" fill="#e8e8e8"/>
<path d="M428,629 H568.5 V655 L561,664 H435.5 L428,655 Z" fill="#e4e4e4"/>
<path d="M431,631.5 H565.5 V654 L559,660.5 H437.5 L431,654 Z" fill="#0c0c0c"/>
<path d="M440,639 H556 V642 L548,645 H448 L440,642 Z" fill="#5c5c5c"/>
<path d="M418,651 L427,645 M577,645 L586,651" stroke="#e0e0e0" stroke-width="1.5"/>
<rect x="448.5" y="597" width="2.6" height="5" rx="1.2" fill="#222"/>
<rect x="458" y="597" width="2.6" height="5" rx="1.2" fill="#222"/>
<rect x="530.5" y="597" width="2.6" height="5" rx="1.2" fill="#222"/>
<rect x="544" y="597" width="2.6" height="5" rx="1.2" fill="#222"/>
<path d="M423.5,683 L429.5,683 L413.3,729 Z" fill="#1c2a7a"/>
</svg>
</body></html>
